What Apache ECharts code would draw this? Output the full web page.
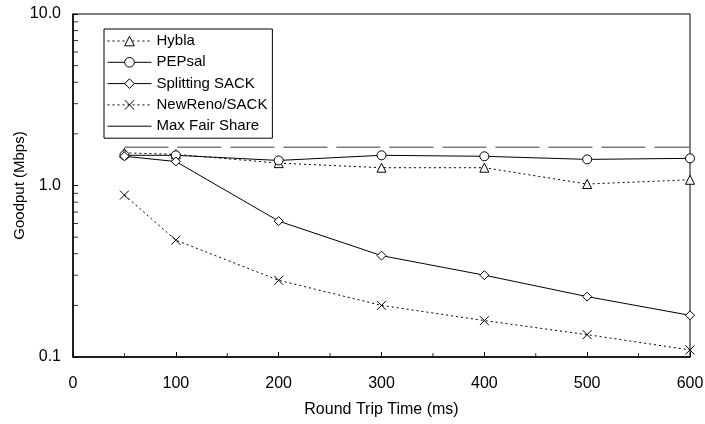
<!DOCTYPE html>
<html>
<head>
<meta charset="utf-8">
<script src="https://cdn.jsdelivr.net/npm/echarts@6/dist/echarts.min.js"></script>
<style>
  html, body { margin: 0; padding: 0; background: #fff; }
  #chart { width: 705px; height: 424px; }
</style>
</head>
<body>
<div id="chart"></div>
<script>
const rttMs = [50, 100, 200, 300, 400, 500, 600];
const hybla = [1.55, 1.52, 1.35, 1.27, 1.27, 1.02, 1.08];
const pepsal = [1.5, 1.5, 1.4, 1.5, 1.48, 1.42, 1.44];
const splittingSack = [1.48, 1.38, 0.62, 0.39, 0.30, 0.225, 0.175];
const newRenoSack = [0.88, 0.48, 0.28, 0.20, 0.163, 0.135, 0.11];
const maxFairShare = [1.67, 1.67, 1.67, 1.67, 1.67, 1.67, 1.67];
const yMinorTicks = [0.2, 0.3, 0.4, 0.5, 0.6, 0.7, 0.8, 0.9, 2, 3, 4, 5, 6, 7, 8, 9];
const xMinorTicks = [50, 150, 250, 350, 450, 550];

const FONT = '"Liberation Sans", Arial, sans-serif';
const crossSymbol = 'path://M0,0L10,10M10,0L0,10';
const dots = [2, 3];

function pairs(values) {
    return rttMs.map((x, i) => [x, values[i]]);
}

const hollow = { color: '#fff', borderColor: '#000', borderWidth: 1 };

// short tick marks drawn as symbols so they sit on the library's log scale
const yTickMarks = {
    type: 'scatter', silent: true, clip: false, z: 4,
    data: yMinorTicks.map((v) => [0, v]),
    symbol: 'rect', symbolSize: [5, 1], symbolOffset: [2.5, 0],
    itemStyle: { color: '#000' }
};
const xTickMarks = {
    type: 'scatter', silent: true, clip: false, z: 4,
    data: xMinorTicks.map((v) => [v, 0.1]),
    symbol: 'rect', symbolSize: [1, 4], symbolOffset: [0, -2],
    itemStyle: { color: '#000' }
};

const chart = echarts.init(document.getElementById('chart'));
chart.setOption({
    backgroundColor: '#fff',
    animation: false,
    grid: {
        left: 73, right: 15, top: 14, bottom: 67,
        outerBoundsMode: 'none',
        containLabel: false,
        show: true, borderColor: '#000', borderWidth: 1
    },
    legend: {
        orient: 'vertical',
        left: 104,
        top: 29,
        padding: [4.5, 5, 4.5, 3],
        itemGap: 6.3,
        itemWidth: 44,
        itemHeight: 12,
        borderColor: '#000',
        borderWidth: 1,
        borderRadius: 0,
        backgroundColor: '#fff',
        textStyle: { fontFamily: FONT, fontSize: 15, color: '#000' },
        data: [
            { name: 'Hybla', itemStyle: hollow, lineStyle: { width: 1, type: dots, color: '#000' } },
            { name: 'PEPsal', itemStyle: hollow, lineStyle: { width: 1, color: '#000' } },
            { name: 'Splitting SACK', itemStyle: hollow, lineStyle: { width: 1, color: '#000' } },
            { name: 'NewReno/SACK', itemStyle: { color: 'none', borderColor: '#000', borderWidth: 1 }, lineStyle: { width: 1, type: dots, color: '#000' } },
            { name: 'Max Fair Share', itemStyle: { color: 'none', borderWidth: 0, opacity: 0 }, lineStyle: { color: '#000', type: 'solid', width: 1 } }
        ]
    },
    xAxis: {
        type: 'value',
        min: 0,
        max: 600,
        interval: 100,
        name: 'Round Trip Time (ms)',
        nameLocation: 'middle',
        nameGap: 45,
        nameMoveOverlap: false,
        nameTextStyle: { fontFamily: FONT, fontSize: 16, color: '#000' },
        axisLine: { lineStyle: { color: '#000', width: 1.5 } },
        axisTick: { inside: true, length: 5, lineStyle: { color: '#000' } },
        splitLine: { show: false },
        axisLabel: { fontFamily: FONT, fontSize: 16, color: '#000', margin: 19 }
    },
    yAxis: {
        type: 'log',
        logBase: 10,
        min: 0.1,
        max: 10,
        name: 'Goodput (Mbps)',
        nameLocation: 'middle',
        nameGap: 46,
        nameMoveOverlap: false,
        nameTextStyle: { fontFamily: FONT, fontSize: 15, color: '#000' },
        axisLine: { lineStyle: { color: '#000', width: 1.5 } },
        axisTick: { inside: true, length: 5, lineStyle: { color: '#000' } },
        splitLine: { show: false },
        axisLabel: {
            fontFamily: FONT, fontSize: 16, color: '#000', margin: 12,
            formatter: (v) => v.toFixed(1)
        }
    },
    series: [
        {
            name: 'Hybla', type: 'line', data: pairs(hybla),
            symbol: 'triangle', symbolSize: 9, z: 3,
            lineStyle: { color: '#000', width: 1, type: dots },
            itemStyle: hollow
        },
        {
            name: 'PEPsal', type: 'line', data: pairs(pepsal),
            symbol: 'circle', symbolSize: 9, z: 3,
            lineStyle: { color: '#000', width: 1 },
            itemStyle: hollow
        },
        {
            name: 'Splitting SACK', type: 'line', data: pairs(splittingSack),
            symbol: 'diamond', symbolSize: 9, z: 3,
            lineStyle: { color: '#000', width: 1 },
            itemStyle: hollow
        },
        {
            name: 'NewReno/SACK', type: 'line', data: pairs(newRenoSack),
            symbol: crossSymbol, symbolSize: 9, z: 3,
            lineStyle: { color: '#000', width: 1, type: dots },
            itemStyle: { color: 'none', borderColor: '#000', borderWidth: 1 }
        },
        {
            name: 'Max Fair Share', type: 'line', data: pairs(maxFairShare),
            symbol: 'none', z: 2,
            lineStyle: { color: '#7a7a7a', width: 1.5, type: [44, 9] },
            itemStyle: { color: '#000' }
        },
        yTickMarks,
        xTickMarks
    ]
});
</script>
</body>
</html>
